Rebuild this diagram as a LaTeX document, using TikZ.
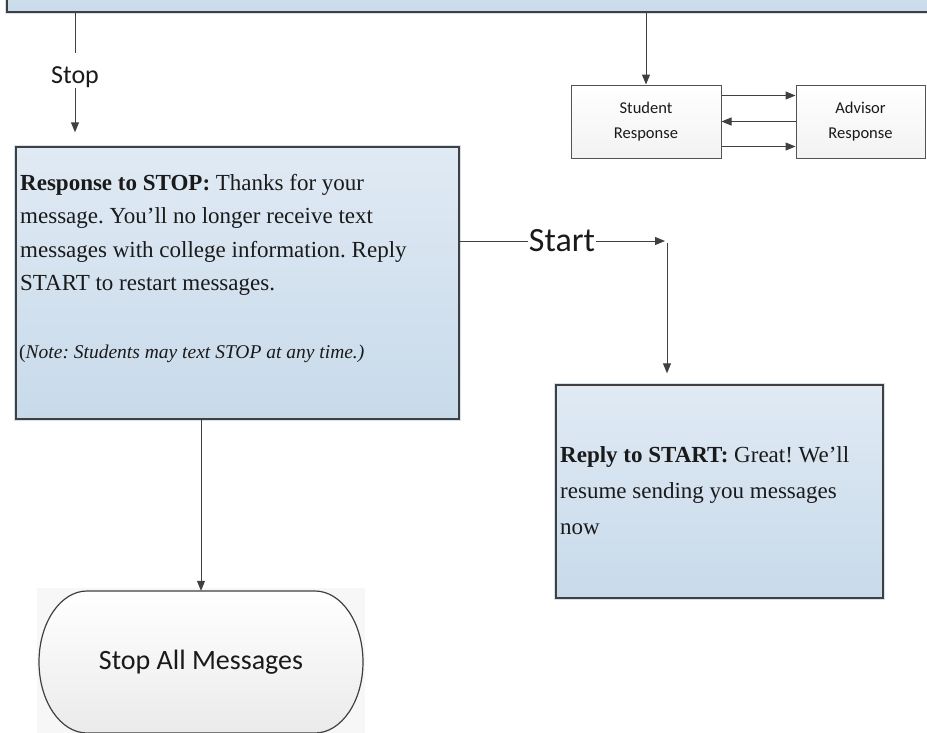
\documentclass[tikz,border=0pt]{standalone}
\usepackage{fontspec}
\setmainfont{Liberation Serif}
\newfontfamily\calib{Carlito}
\usetikzlibrary{arrows.meta}
\definecolor{bluetop}{HTML}{E0EAF4}
\definecolor{bluebot}{HTML}{C8DAEA}
\definecolor{edge}{HTML}{404040}
\definecolor{halo}{HTML}{D4E2EF}
\definecolor{txt}{HTML}{1A1A1A}
\frenchspacing
\begin{document}
\begin{tikzpicture}[x=1pt,y=-1pt,
  bluebox/.style={draw=edge, line width=1.4pt, top color=bluetop, bottom color=bluebot,
    inner sep=0pt, preaction={draw=halo, line width=4pt}},
  whitebox/.style={draw=edge!90, line width=1pt, top color=white, bottom color=gray!10,
    inner sep=0pt, align=center, text=txt, font=\calib\fontsize{16.5}{25}\selectfont},
  conn/.style={draw=edge, line width=1pt},
  arr/.style={conn, -{Triangle[length=10pt,width=8pt]}},
  bodytext/.style={anchor=north west, inner sep=0pt, align=left, text=txt},
  lbl/.style={inner sep=0pt, text=txt, font=\calib}
]
\useasboundingbox (0,0) rectangle (927,732);

% top box (cut off)
\node[bluebox, minimum width=933pt, minimum height=62pt] (topbox) at (473.5,-19) {};

% Student / Advisor
\node[whitebox, minimum width=150pt, minimum height=73pt] (student) at (646,121.5) {Student\\Response};
\node[whitebox, minimum width=129pt, minimum height=73pt] (advisor) at (860.5,121.5) {Advisor\\Response};
\draw[arr] (topbox.south -| student.north) -- (student.north);
\draw[arr] ([yshift=26pt]student.east) -- ([yshift=26pt]advisor.west);
\draw[arr] (advisor.west) -- (student.east);
\draw[arr] ([yshift=-25pt]student.east) -- ([yshift=-25pt]advisor.west);

% Response to STOP box
\node[bluebox, minimum width=443pt, minimum height=272pt] (resp) at (237.5,283) {};
\node[bodytext, font=\fontsize{23}{33.4}\selectfont] (resptext) at (20,174)
  {\textbf{Response to STOP:} Thanks for your\\
   message. You’ll no longer receive text\\
   messages with college information. Reply\\
   START to restart messages.};
\node[anchor=base west, inner sep=0pt, text=txt, font=\fontsize{19.5}{22}\selectfont] (note) at (19,358)
  {(\textit{Note: Students may text STOP at any time.)}};

% Stop label and arrow
\node[lbl, font=\calib\fontsize{26}{30}\selectfont] (stoplbl) at (75,77) {Stop};
\draw[conn] (topbox.south -| stoplbl.north) -- ([yshift=13pt]stoplbl.north);
\draw[arr, shorten >=14pt] (stoplbl.south) -- (stoplbl.south |- resp.north);

% Start label and arrows
\node[lbl, inner sep=1pt, font=\calib\fontsize{34}{36}\selectfont] (startlbl) at (562,241) {Start};
\draw[conn] ([yshift=42pt]resp.east) -- (startlbl.west);
\coordinate (c1) at (665,241);
\coordinate (c2) at (667,243);
\draw[arr] (startlbl.east) -- (c1);

% Reply to START box
\node[bluebox, minimum width=327pt, minimum height=213pt] (reply) at (719.5,491.5) {};
\node[bodytext, font=\fontsize{23}{36}\selectfont] (replytext) at (560,446)
  {\textbf{Reply to START:} Great! We’ll\\
   resume sending you messages\\
   now};
\draw[arr, shorten >=11pt] (c2) -- (c2 |- reply.north);

% Stop All Messages terminal
\fill[gray!6] (37,588) rectangle (365,735);
\path[draw=edge, line width=1.2pt, top color=white, bottom color=gray!16]
  (87,591) -- (315,591) arc[start angle=-90, end angle=90, x radius=48, y radius=71]
  -- (87,733) arc[start angle=90, end angle=270, x radius=48, y radius=71] -- cycle;
\node[lbl, minimum width=324pt, minimum height=142pt, font=\calib\fontsize{28}{30}\selectfont] (stopall) at (201,662) {Stop All Messages};
\draw[arr] (resp.south -| stopall.north) -- (stopall.north);
\end{tikzpicture}
\end{document}
